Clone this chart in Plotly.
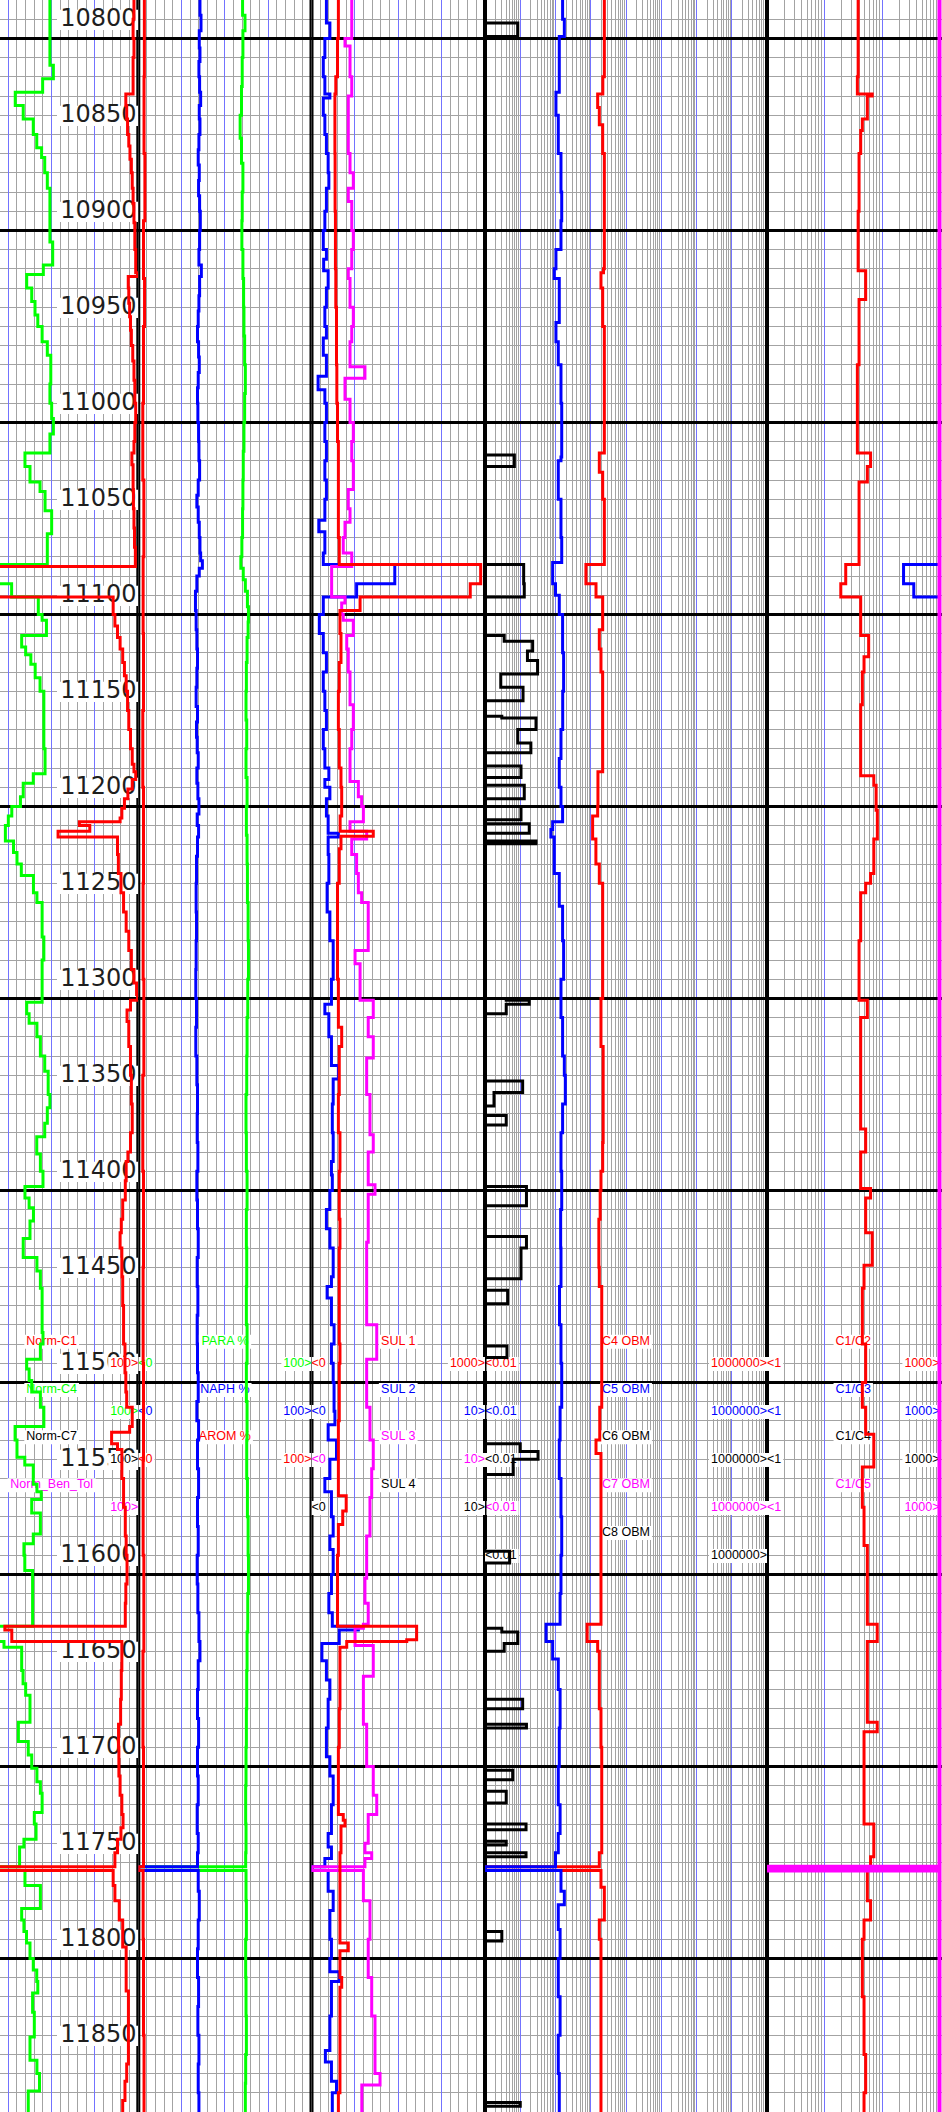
import math
import plotly.graph_objects as go

W, H = 942, 2112
D_TOP, D_BOT = 10790, 11890

RED, GREEN, BLUE, MAGENTA, BLACK = "#ff0000", "#00ff00", "#0000ff", "#ff00ff", "#000000"
GRID_GRAY = "#a3a3a3"
GRID_BLUE = "#7373ff"

# ---------------- data: (depth ft, value) step samples ----------------
# Track 1 (0-100 %)
NORM_C1 = [(10790,97.5),(10800,97),(10810,97.5),(10820,97),(10839,92.8),(10845,93.3),(10852,93.8),(10860,94.5),(10866,95.2),(10873,96),(10880,96.5),(10888,97),(10896,97.5),(10906,98),(10920,98.5),(10932,99.8),(10934,94.2),(10940,94.5),(10948,95),(10955,95.5),(10962,96),(10970,96.8),(10978,97.5),(10988,98),(11000,98.5),(11010,98),(11020,97.5),(11026,96.3),(11032,97),(11045,97.2),(11055,97.5),(11065,97.8),(11075,98.3),(11085,5),(11101,85.5),(11110,86.5),(11116,88),(11122,89.5),(11128,91),(11135,92),(11142,93),(11150,93.8),(11160,94.5),(11170,95.5),(11180,96.5),(11188,97.5),(11192,98.5),(11196,96.5),(11201,94),(11206,92),(11211,90.5),(11216,89.5),(11218,66),(11220,72),(11223,53.7),(11226,88),(11235,88.5),(11245,90),(11255,91.5),(11265,93),(11275,94.5),(11285,96),(11295,97.5),(11302,99),(11308,99.5),(11311,95.5),(11316,93.5),(11322,94.5),(11335,95.5),(11350,96),(11365,96.5),(11380,95.5),(11390,94),(11395,93),(11405,92.5),(11415,91),(11425,90.2),(11432,89.5),(11440,90.5),(11455,91),(11470,91.5),(11490,92.3),(11505,92.8),(11515,93.3),(11523,96.5),(11533,95),(11536,84.6),(11542,88),(11545,90.5),(11560,91.5),(11575,92.5),(11590,93),(11600,93.5),(11615,92.8),(11625,92.5),(11637,23),(11639,27),(11645,90.5),(11660,90.2),(11675,89.8),(11688,88.6),(11700,88.8),(11715,89.5),(11725,90.5),(11735,91.2),(11742,90),(11748,88),(11755,86.5),(11762.3,5),(11764.2,85.5),(11772,86.5),(11780,89),(11790,91),(11804,93),(11827,94.3),(11850,94.3),(11865,93.3),(11874,92.3),(11884,91),(11890,90.4)]
NORM_C4 = [(10790,49),(10824,51),(10831,44.8),(10838,29),(10845,33.6),(10852,39.4),(10860,41.4),(10867,44.2),(10872,46),(10880,47.5),(10888,49),(10916,50.6),(10928,45.2),(10933,35.6),(10940,38.5),(10947,40.4),(10954,42),(10960,44.5),(10968,47.5),(10975,49.5),(10990,49),(11000,50),(11008,51),(11016,49),(11026,34.6),(11033,37.5),(11041,43.3),(11046,46.2),(11056,50),(11068,47.5),(11084,5),(11094,26.9),(11101,42.3),(11110,44.5),(11113,47),(11121,32.7),(11127,35),(11131,38),(11136,40.5),(11143,43.3),(11150,45.5),(11180,46.2),(11193,39.4),(11198,33.6),(11205,32),(11210,27),(11215,25),(11220,23.3),(11228,28),(11234,30),(11240,32.5),(11246,39.5),(11255,41.5),(11260,44.5),(11278,45.5),(11290,44.5),(11312,35.6),(11318,37),(11323,41.5),(11330,43.5),(11340,46),(11348,48),(11360,49),(11367,47.5),(11375,46),(11382,41.4),(11391,43.5),(11400,45),(11408,34.6),(11414,37),(11419,39.5),(11426,37.5),(11435,33.6),(11445,41.5),(11452,43.5),(11461,44.5),(11484,45),(11490,43.5),(11498,35.6),(11503,37),(11509,38.5),(11515,43.5),(11523,45.5),(11533,28.9),(11540,30),(11549,34.5),(11553,39.4),(11563,41.5),(11567,44),(11571,38.5),(11578,43.5),(11589,39.4),(11594,34),(11600,34.5),(11608,39),(11637,5),(11645,22.5),(11648,32.7),(11660,33.5),(11667,35),(11673,37.5),(11687,30.8),(11697,36.5),(11704,38.5),(11711,41.5),(11718,43.5),(11724,44.5),(11734,40),(11740,41),(11748,34),(11752,31.5),(11762.3,5),(11764.2,34.6),(11772,43.5),(11784,32.7),(11790,34),(11796,35.5),(11802,37.5),(11810,39.4),(11816,41.4),(11822,42),(11828,39),(11838,40),(11851,37.5),(11863,41.5),(11870,43),(11879,36.5),(11890,37)]

# Track 2 (0-100 %)
PARA = [(10790,60.2),(10798,61.6),(10806,60.4),(10820,60),(10835,59.6),(10850,58.8),(10862,59.6),(10875,60.4),(10890,60),(10905,59.8),(10920,60.4),(10935,60.8),(10950,61),(10965,61.4),(10980,61.8),(10995,61.4),(11010,61),(11025,60.6),(11040,60.4),(11055,60.2),(11070,59.8),(11080,59.2),(11086,60.6),(11092,61.8),(11098,63),(11106,63.6),(11114,63.4),(11122,62.8),(11135,62.4),(11150,62.2),(11165,62.6),(11180,62.2),(11195,62.8),(11210,62.4),(11225,62.8),(11240,63),(11260,63.4),(11280,63.6),(11300,63.2),(11320,62.8),(11340,62.6),(11360,62.2),(11380,62.4),(11400,62.8),(11420,62.4),(11440,62.6),(11460,62.4),(11480,62.8),(11500,62.4),(11520,62.8),(11540,62.6),(11560,63),(11580,63.4),(11600,63.6),(11620,63.2),(11640,62.8),(11660,62.6),(11680,62.4),(11700,62.2),(11720,62),(11740,62.2),(11755,62),(11762.3,0),(11764.2,62.2),(11780,62.4),(11800,62),(11820,62.2),(11840,62.4),(11860,62),(11875,61.8),(11890,62)]
NAPH = [(10790,35.6),(10798,36.2),(10806,35.2),(10815,35.6),(10822,35),(10830,35.4),(10838,36),(10845,35.2),(10852,35.6),(10860,35),(10868,34.6),(10876,35.2),(10884,34.8),(10892,35.4),(10900,35.8),(10910,35.4),(10920,35),(10928,36.4),(10934,35.4),(10944,35),(10952,34.6),(10960,34.2),(10968,34.8),(10976,35.2),(10984,34.6),(10992,34.2),(11000,34.4),(11010,34.8),(11020,35),(11030,35.4),(11040,34.6),(11048,33.8),(11054,34.6),(11062,35.2),(11070,35.6),(11078,36),(11082,37),(11086,35.2),(11090,33.8),(11098,33),(11108,33.4),(11118,33.8),(11128,34.2),(11138,33.8),(11148,33.4),(11158,34.2),(11166,33.6),(11174,34),(11182,34.6),(11190,33.8),(11198,34.4),(11206,35),(11214,34),(11220,34.8),(11226,34.2),(11236,33.6),(11250,33.4),(11265,33.6),(11280,33.4),(11295,33.2),(11310,33.6),(11325,33.2),(11340,33.8),(11355,34.2),(11370,34),(11385,34.4),(11400,33.8),(11415,34.2),(11430,34.6),(11445,34),(11460,34.4),(11475,34),(11490,34.2),(11505,34.6),(11520,33.8),(11530,34.8),(11540,34.2),(11555,34.8),(11570,34.2),(11585,34.6),(11600,34),(11615,34.4),(11630,35),(11645,35.6),(11655,34.6),(11670,34.2),(11685,34.8),(11700,34.2),(11715,34.6),(11730,34),(11745,34.6),(11755,34.2),(11762.3,0),(11764.2,34.6),(11775,35.2),(11790,34.6),(11805,34.2),(11820,34.8),(11835,34.4),(11850,35),(11865,34.6),(11880,35),(11890,35)]
AROM = [(10790,3.5),(10830,3.3),(10870,3.8),(10905,3.0),(10935,3.6),(10960,3.0),(11000,2.6),(11040,3.2),(11080,2.8),(11120,3.0),(11160,2.6),(11200,3.0),(11250,2.8),(11300,3.2),(11350,2.6),(11400,3.0),(11450,2.8),(11500,3.0),(11550,2.8),(11600,3.2),(11650,2.7),(11700,3.0),(11762.3,0),(11764.2,2.8),(11800,3.0),(11850,3.3),(11890,3.3)]

# Track 3 (SUL 1: 0-1000, SUL 2/3: 0-10)
SUL1 = [(10790,155),(10810,150),(10830,140),(10839,135),(10870,136),(10900,138),(10930,140),(10950,144),(10980,146),(11000,150),(11020,155),(11050,155),(11070,160),(11084,975),(11094,915),(11101,280),(11108,164),(11120,170),(11135,160),(11150,155),(11170,160),(11190,170),(11200,174),(11215,165),(11223,356),(11225.5,170),(11232,160),(11250,150),(11280,150),(11300,155),(11325,174),(11335,160),(11360,155),(11380,164),(11400,160),(11425,164),(11440,160),(11490,164),(11500,160),(11530,155),(11569,200),(11577,180),(11584,155),(11600,150),(11637,606),(11644,549),(11645,203),(11648,164),(11680,160),(11700,155),(11735,183),(11738,193),(11741,170),(11755,164),(11800,164),(11802,212),(11806,164),(11820,174),(11825,164),(11870,164),(11880,155),(11890,155)]
SUL2 = [(10790,0.86),(10802,1.06),(10810,0.77),(10820,0.68),(10830,0.77),(10839,1.06),(10841,0.68),(10850,0.77),(10860,0.86),(10870,0.96),(10880,1.0),(10888,0.86),(10900,0.77),(10910,0.68),(10920,0.86),(10925,0.7),(10931,0.96),(10940,0.86),(10950,0.77),(10960,0.86),(10966,0.68),(10975,0.86),(10986,0.38),(10993,0.77),(11000,0.86),(11010,0.77),(11020,0.86),(11030,0.77),(11040,0.86),(11050,0.77),(11061,0.42),(11067,0.77),(11078,0.68),(11084,4.8),(11094,2.6),(11101,0.68),(11110,0.45),(11120,0.68),(11130,0.86),(11140,0.68),(11150,0.77),(11160,0.86),(11170,0.68),(11180,0.77),(11190,1.0),(11196,0.77),(11200,1.06),(11206,0.86),(11215,0.96),(11224,1.55),(11226,0.96),(11235,1.0),(11250,0.9),(11265,1.06),(11280,1.25),(11300,1.15),(11313,0.77),(11318,1.0),(11330,1.15),(11345,1.55),(11352,1.25),(11365,1.2),(11380,1.25),(11395,1.15),(11402,1.2),(11410,1.06),(11420,0.86),(11430,1.06),(11440,1.25),(11455,1.15),(11460,0.9),(11466,1.15),(11480,1.3),(11490,1.15),(11500,1.25),(11510,1.3),(11525,1.35),(11532,0.96),(11540,1.44),(11550,1.06),(11560,0.77),(11567,1.15),(11580,1.25),(11590,1.06),(11597,1.25),(11610,1.15),(11620,1.0),(11630,1.2),(11637,2.7),(11639,1.6),(11646,0.6),(11655,0.86),(11665,1.06),(11675,0.96),(11690,0.86),(11705,1.06),(11715,1.25),(11730,1.15),(11745,0.96),(11752,1.15),(11758,0.77),(11762.3,0),(11764.2,0.96),(11775,1.25),(11785,1.06),(11800,1.15),(11810,1.06),(11817,1.6),(11822,1.15),(11840,1.06),(11858,0.8),(11864,1.15),(11874,1.44),(11880,1.2),(11890,1.2)]
SUL3 = [(10790,2.32),(10810,1.93),(10814,2.22),(10830,2.32),(10840,2.12),(10870,2.22),(10880,2.41),(10888,2.12),(10895,2.32),(10910,2.41),(10920,2.32),(10930,2.12),(10935,2.22),(10950,2.41),(10960,2.32),(10968,2.22),(10981,3.08),(10987,1.93),(10998,2.22),(11010,2.41),(11020,2.32),(11030,2.41),(11045,2.12),(11055,2.22),(11062,1.93),(11070,1.83),(11078,2.32),(11085,1.16),(11101,1.93),(11104,1.74),(11110,1.83),(11113,2.41),(11121,2.03),(11128,2.12),(11140,2.22),(11157,2.41),(11170,2.32),(11180,2.22),(11197,2.7),(11205,2.89),(11210,2.99),(11218,2.22),(11223,3.18),(11227,2.32),(11235,2.6),(11245,2.7),(11255,2.89),(11260,3.27),(11285,2.51),(11292,2.8),(11311,3.56),(11320,3.27),(11330,3.56),(11341,3.18),(11360,3.37),(11381,3.56),(11390,3.27),(11407,3.66),(11412,3.27),(11437,3.18),(11480,3.76),(11498,3.18),(11523,3.37),(11540,3.56),(11555,3.47),(11570,3.37),(11590,3.18),(11612,3.08),(11625,3.27),(11636,2.99),(11638,2.51),(11647,3.56),(11663,2.99),(11688,3.18),(11710,3.56),(11725,3.76),(11735,3.27),(11750,3.08),(11755,3.47),(11758,3.08),(11762.3,0),(11764.2,2.99),(11780,3.37),(11800,3.27),(11820,3.47),(11840,3.66),(11860,3.66),(11870,3.95),(11876,2.9),(11890,3.0)]

# Track 4 (log 0.01 - 1e6)
C4_OBM = [(10790,24.3),(10830,22),(10839,15.7),(10846,17.5),(10855,21.8),(10870,24.3),(10900,24.3),(10930,23),(10932,19.5),(10940,21.8),(10960,24.3),(10990,24.3),(11026,17.5),(11036,21.8),(11050,24.3),(11084,7.3),(11094,14.1),(11101,21.8),(11118,17.5),(11128,19.5),(11140,21.8),(11160,21.8),(11192,16),(11210,15.7),(11215,11.3),(11227,14),(11240,17.5),(11250,21.8),(11310,19.5),(11330,19.5),(11335,22.5),(11370,22.5),(11385,21.8),(11400,19.5),(11410,18.5),(11425,17),(11450,17.5),(11460,20.5),(11500,20.5),(11523,18),(11540,14.1),(11547,19.5),(11600,19.5),(11636,7.9),(11645,15.7),(11650,17.5),(11680,19.5),(11700,20.5),(11740,20.5),(11755,17.5),(11762.3,0.01),(11764.2,19.5),(11773,24.3),(11790,17.5),(11800,19.5),(11850,19.5),(11890,19)]
C5_OBM = [(10790,1.59),(10800,1.78),(10809,1.28),(10838,1.03),(10850,1.2),(10870,1.43),(10890,1.5),(10905,1.43),(10920,1.03),(10930,0.92),(10935,1.28),(10958,1.03),(10968,1.2),(10980,1.43),(11000,1.5),(11028,1.43),(11030,1.2),(11050,1.43),(11070,1.5),(11083,0.83),(11094,1.0),(11100,1.28),(11110,1.59),(11130,1.7),(11150,1.6),(11170,1.43),(11185,1.28),(11200,1.43),(11210,1.59),(11218,0.83),(11222,0.74),(11226,0.92),(11245,1.28),(11262,1.59),(11280,1.7),(11300,1.43),(11320,1.59),(11340,1.78),(11350,1.9),(11365,1.59),(11380,1.43),(11400,1.5),(11420,1.4),(11440,1.43),(11460,1.3),(11480,1.43),(11500,1.5),(11523,1.35),(11540,1.28),(11560,1.43),(11580,1.5),(11600,1.43),(11620,1.35),(11636,0.54),(11645,0.83),(11654,1.2),(11670,1.35),(11690,1.28),(11710,1.2),(11730,1.35),(11745,1.2),(11755,1.0),(11762.3,0.01),(11764.2,1.43),(11775,1.78),(11782,1.2),(11795,1.35),(11810,1.2),(11830,1.35),(11850,1.2),(11870,1.28),(11890,1.2)]
C6_OBM = [(10790,0.01),(10802,0.085),(10809,0.01),(11027,0.068),(11033,0.01),(11084,0.125),(11094,0.13),(11101,0.01),(11121,0.035),(11124,0.225),(11129,0.16),(11134,0.31),(11141,0.028),(11148,0.12),(11155,0.01),(11163,0.03),(11164,0.28),(11170,0.085),(11177,0.2),(11182,0.01),(11189,0.105),(11195,0.01),(11199,0.13),(11206,0.01),(11210,0.105),(11217,0.01),(11219,0.18),(11224,0.01),(11228,0.28),(11229.5,0.01),(11310,0.04),(11311,0.18),(11313,0.04),(11318,0.01),(11353,0.117),(11359,0.018),(11366,0.01),(11371,0.04),(11376,0.01),(11408,0.15),(11418,0.01),(11434,0.15),(11440,0.105),(11456,0.01),(11462,0.044),(11469,0.01),(11491,0.042),(11497,0.01),(11542,0.1),(11546,0.32),(11550,0.063),(11558,0.01),(11598,0.05),(11604,0.01),(11638,0.03),(11640,0.085),(11646,0.035),(11650,0.01),(11675,0.117),(11680,0.01),(11688,0.15),(11690,0.01),(11712,0.061),(11717,0.01),(11723,0.04),(11729,0.01),(11740,0.146),(11743,0.01),(11749,0.04),(11751,0.01),(11755,0.146),(11757,0.01),(11796,0.03),(11801,0.01),(11885,0.1),(11887,0.01),(11890,0.01)]

# Track 5 (log 1 - 1000)
C1_C2 = [(10790,38.5),(10830,37.3),(10839,67.6),(10840,55.6),(10852,45.5),(10858,42.6),(10870,39.9),(10900,38.5),(10931,52),(10946,39.9),(10980,37.3),(11026,63.3),(11033,55.6),(11041,39.9),(11084,23.4),(11094,19.2),(11101,42.6),(11121,58.6),(11132,48.7),(11140,45.5),(11157,42.6),(11194,72),(11199,79),(11212,83),(11227,72),(11245,63.3),(11250,52),(11255,42.6),(11280,39.9),(11311,55.6),(11320,42.6),(11378,52),(11390,42.6),(11409,63.3),(11414,52),(11432,67.6),(11449,48.7),(11461,45.5),(11490,52),(11510,45.5),(11523,52),(11537,72),(11554,45.5),(11575,48.7),(11595,55.6),(11636,82.6),(11645,55.6),(11687,82.6),(11692,48.7),(11740,72),(11757,63.3),(11762.3,1),(11764.2,55.6),(11780,63.3),(11790,48.7),(11800,45.5),(11830,48.7),(11860,52),(11880,48.7),(11890,48.7)]
C1_C3 = [(10790,1000),(11084,237),(11094,357),(11101,1000),(11890,1000)]
C1_C5 = [(10790,1000),(11762.3,1),(11764.2,1000),(11890,1000)]

DEPTH_LABELS = list(range(10800, 11851, 50))
MAJOR_DEPTHS = list(range(10810, 11811, 100))
MINOR_DEPTHS = [d for d in range(10790, 11891, 10) if d not in MAJOR_DEPTHS]

# legend: axis, names, colors, min labels, max labels
LEGEND = [
    ("x",  ["Norm-C1", "Norm-C4", "Norm-C7", "Norm_Ben_Tol"], [RED, GREEN, BLACK, MAGENTA], ["0"] * 4, ["100"] * 4),
    ("x2", ["PARA %", "NAPH %", "AROM %"], [GREEN, BLUE, RED], ["0"] * 3, ["100"] * 3),
    ("x3", ["SUL 1", "SUL 2", "SUL 3", "SUL 4"], [RED, BLUE, MAGENTA, BLACK], ["0"] * 4, ["1000", "10", "10", "10"]),
    ("x5", ["C4 OBM", "C5 OBM", "C6 OBM", "C7 OBM", "C8 OBM"], [RED, BLUE, BLACK, MAGENTA, BLACK], ["0.01"] * 5, ["1000000"] * 5),
    ("x6", ["C1/C2", "C1/C3", "C1/C4", "C1/C5"], [RED, BLUE, BLACK, MAGENTA], ["1"] * 4, ["1000"] * 4),
]
NAME_ROW_DEPTHS = [11488.8, 11513.9, 11538.6, 11563.6, 11588.4]
SCALE_ROW_DEPTHS = [11500.4, 11525.4, 11550.4, 11575.4, 11600.4]

# ---------------- layout geometry ----------------
TRACK_PX = {"x": (-35.0, 138.3), "x2": (138.3, 311.5), "x3": (311.5, 485.0),
            "x5": (485.0, 767.0), "x6": (767.0, 939.5)}
TRACK_SCALE = {"x": (0, 100, False), "x2": (0, 100, False), "x3": (0, 10, False),
               "x5": (0.01, 1e6, True), "x6": (1, 1000, True)}
VISIBLE_PX = {"x": (0, 138.3), "x2": (138.3, 311.5), "x3": (311.5, 485.0),
              "x5": (485.0, 767.0), "x6": (767.0, 942.0)}


def px2val(ax, p):
    l, r = TRACK_PX[ax]
    lo, hi, lg = TRACK_SCALE[ax]
    f = (p - l) / (r - l)
    if lg:
        return 10 ** (math.log10(lo) + f * (math.log10(hi) - math.log10(lo)))
    return lo + f * (hi - lo)


def axis_range(ax):
    a, b = VISIBLE_PX[ax]
    lg = TRACK_SCALE[ax][2]
    v0, v1 = px2val(ax, a), px2val(ax, b)
    return [math.log10(v0), math.log10(v1)] if lg else [v0, v1]


ARIAL_W = {c: 556 for c in "0123456789"}
ARIAL_W.update({"<": 584, ">": 584, ".": 278, " ": 278, "%": 889, "-": 333, "_": 556, "/": 278,
                "N": 722, "C": 722, "P": 667, "A": 667, "R": 722, "H": 722, "O": 778, "M": 833,
                "S": 667, "U": 722, "L": 556, "B": 667, "T": 611, "o": 556, "r": 333, "m": 833,
                "e": 556, "n": 556, "l": 222})


def arial_width(s, size):
    return sum(ARIAL_W.get(c, 556) for c in s) / 1000.0 * size


fig = go.Figure()
LFONT = "Liberation Sans, Arial, sans-serif"
LSIZE = 12.5


def add_box(ax, p0, p1, d0, d1):
    x0, x1 = px2val(ax, p0), px2val(ax, p1)
    fig.add_trace(go.Scatter(x=[x0, x1, x1, x0, x0], y=[d0, d0, d1, d1, d0], xaxis=ax, yaxis="y",
                             mode="lines", fill="toself", fillcolor="white",
                             line=dict(width=0, color="white"), hoverinfo="skip", showlegend=False))


def add_text(ax, p, depth, text, color, pos, size=LSIZE, family=LFONT):
    fig.add_trace(go.Scatter(x=[px2val(ax, p)], y=[depth], xaxis=ax, yaxis="y", mode="text",
                             text=[text], textposition=pos,
                             textfont=dict(color=color, size=size, family=family),
                             hoverinfo="skip", showlegend=False))


def add_label(ax, p, depth, text, color, align):
    w = arial_width(text, LSIZE)
    hh = 7.0 / 1.92
    if align == "right":
        add_box(ax, p - w - 2, p, depth - hh, depth + hh)
        add_text(ax, p, depth, text, color, "middle left")
    elif align == "left":
        add_box(ax, p, p + w + 2, depth - hh, depth + hh)
        add_text(ax, p, depth, text, color, "middle right")
    else:
        add_box(ax, p - w / 2 - 2, p + w / 2 + 2, depth - hh, depth + hh)
        add_text(ax, p, depth, text, color, "middle center")


def curve(pairs, ax, color, width=3):
    fig.add_trace(go.Scatter(x=[q[1] for q in pairs], y=[q[0] for q in pairs], xaxis=ax, yaxis="y",
                             mode="lines", line=dict(color=color, width=width, shape="vh"),
                             hoverinfo="skip", showlegend=False))


# depth labels (track 1, beneath curves)
for d in DEPTH_LABELS:
    add_box("x", 57, 138.3, d - 4.9, d + 5.6)
fig.add_trace(go.Scatter(x=[px2val("x", 136.5)] * len(DEPTH_LABELS), y=[d + 0.6 for d in DEPTH_LABELS],
                         xaxis="x", yaxis="y", mode="text", text=[str(d) for d in DEPTH_LABELS],
                         textposition="middle left",
                         textfont=dict(family="DejaVu Sans", size=24, color="#1e1e1e"),
                         hoverinfo="skip", showlegend=False))

# legend labels
for ax, names, cols, mins, maxs in LEGEND:
    l, r = TRACK_PX[ax]
    c = (l + r) / 2
    for i, (nm, col, mn, mx) in enumerate(zip(names, cols, mins, maxs)):
        add_label(ax, c, NAME_ROW_DEPTHS[i], nm, col, "center")
        add_label(ax, r, SCALE_ROW_DEPTHS[i], mx + ">", col, "right")
        if l >= 0:
            add_label(ax, l, SCALE_ROW_DEPTHS[i], "<" + mn, col, "left")

# curves
curve(NORM_C4, "x", GREEN)
curve(NORM_C1, "x", RED)
curve(PARA, "x2", GREEN)
curve(NAPH, "x2", BLUE)
curve(AROM, "x2", RED)
curve(SUL2, "x3", BLUE)
curve(SUL3, "x3", MAGENTA)
curve(SUL1, "x4", RED)
curve(C6_OBM, "x5", BLACK)
curve(C4_OBM, "x5", RED)
curve(C5_OBM, "x5", BLUE)
curve(C1_C2, "x6", RED)
curve(C1_C3, "x6", BLUE)
curve(C1_C5, "x6", MAGENTA, width=4)

# axes
common = dict(anchor="y", showticklabels=False, ticks="", showline=False, zeroline=False, showgrid=True)


def lin_axis(ax, major, minor):
    a, b = VISIBLE_PX[ax]
    return dict(common, domain=[a / W, b / W], range=axis_range(ax), tickmode="linear", tick0=0,
                dtick=major, gridcolor=GRID_BLUE, gridwidth=1,
                minor=dict(tickmode="linear", tick0=0, dtick=minor, showgrid=True,
                           gridcolor=GRID_GRAY, gridwidth=1))


def log_axis(ax, k0, k1):
    a, b = VISIBLE_PX[ax]
    dec = [10.0 ** k for k in range(k0, k1 + 1)]
    mins = [m * 10.0 ** k for k in range(k0, k1) for m in range(2, 10)]
    return dict(common, type="log", domain=[a / W, b / W], range=axis_range(ax), tickmode="array",
                tickvals=dec, gridcolor=GRID_BLUE, gridwidth=1,
                minor=dict(tickmode="array", tickvals=mins, showgrid=True, gridcolor=GRID_GRAY, gridwidth=1))


# track boundaries (between grid and traces), drawn on both neighbouring tracks
shapes = []
for axl, axr in [("x", "x2"), ("x2", "x3"), ("x3", "x5"), ("x5", "x6")]:
    b = TRACK_PX[axl][1]
    for ax in (axl, axr):
        v = px2val(ax, b)
        shapes.append(dict(type="line", xref=ax, yref="y", x0=v, x1=v, y0=D_TOP, y1=D_BOT,
                           line=dict(color="black", width=4), layer="between"))

fig.update_layout(
    width=W, height=H, margin=dict(l=0, r=0, t=0, b=0, pad=0),
    paper_bgcolor="white", plot_bgcolor="white", showlegend=False,
    xaxis=lin_axis("x", 25, 5),
    xaxis2=lin_axis("x2", 25, 5),
    xaxis3=lin_axis("x3", 2.5, 0.5),
    xaxis4=dict(anchor="y", overlaying="x3", range=[0, 1000], showgrid=False, showticklabels=False,
                ticks="", zeroline=False, showline=False),
    xaxis5=log_axis("x5", -2, 6),
    xaxis6=log_axis("x6", 0, 3),
    yaxis=dict(domain=[0, 1], range=[D_BOT, D_TOP], anchor="x", showticklabels=False, ticks="",
               showline=False, zeroline=False, tickmode="array", tickvals=MAJOR_DEPTHS,
               showgrid=True, gridcolor="black", gridwidth=3,
               minor=dict(tickmode="array", tickvals=MINOR_DEPTHS, showgrid=True,
                          gridcolor=GRID_GRAY, gridwidth=1)),
    shapes=shapes,
)

PAGE_CSS = ("document.documentElement.style.margin='0';document.documentElement.style.padding='0';"
            "document.documentElement.style.overflow='hidden';"
            "document.body.style.margin='0';document.body.style.padding='0';"
            "document.body.style.overflow='hidden';")
fig.write_html("out.html", post_script=PAGE_CSS, config={"displayModeBar": False})
